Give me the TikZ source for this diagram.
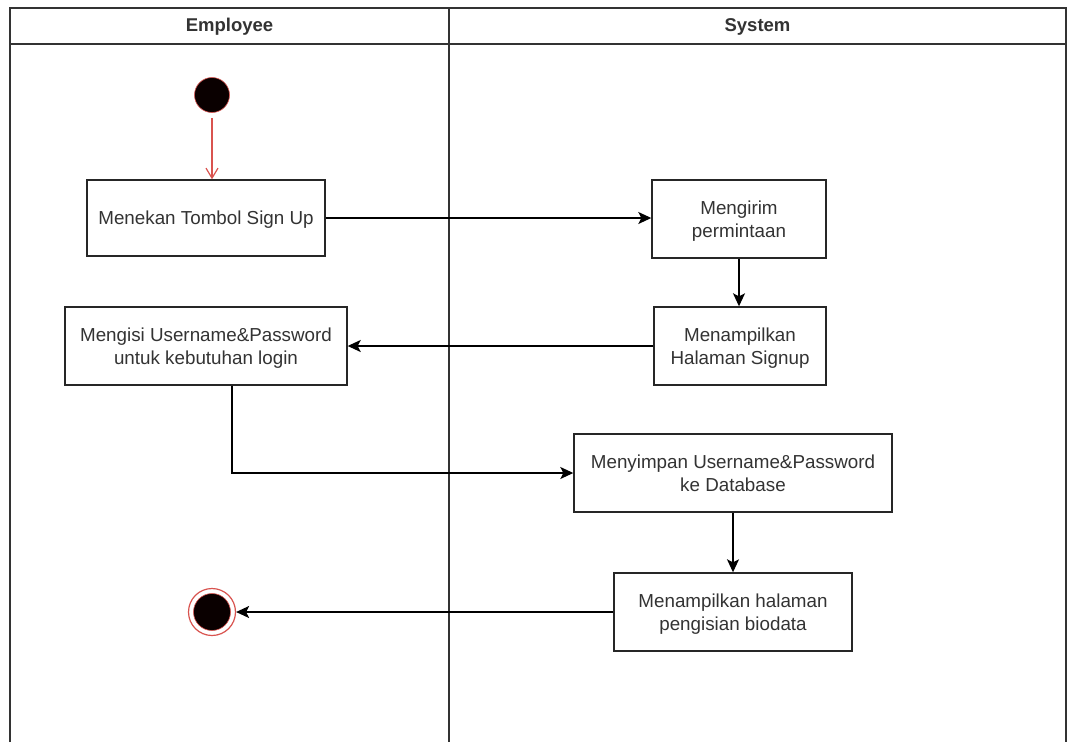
\documentclass[tikz,border=0pt]{standalone}
\usepackage{fontspec}
\setmainfont{Liberation Sans}
\usetikzlibrary{arrows.meta,calc}
\definecolor{txt}{HTML}{333333}
\definecolor{umlred}{HTML}{D9534F}
\definecolor{dotfill}{HTML}{0A0000}
\tikzset{
  act/.style={draw=black!85, line width=1.4pt, fill=white, align=center,
    text=txt, font=\fontsize{18.8}{23}\selectfont, inner sep=0pt, text depth=-3pt},
  flow/.style={draw=black, line width=1.5pt, -{Stealth[length=13pt,width=12pt,inset=3pt]}},
  lane/.style={draw=black!80, line width=1.4pt},
  head/.style={font=\fontsize{18.5}{22}\selectfont\bfseries, text=txt}
}
\begin{document}
\begin{tikzpicture}[x=1pt,y=-1pt]
\useasboundingbox (0,0) rectangle (1075,742);
\fill[white] (0,0) rectangle (1075,742);
% swimlanes
\draw[lane] (10,742) -- (10,8) -- (1066,8) -- (1066,742);
\draw[lane] (10,44) -- (1066,44);
\draw[lane] (449,8) -- (449,742);
\node[head] (hEmp) at (229.5,27) {Employee};
\node[head] (hSys) at (757.5,27) {System};
% start and end
\node[circle, fill=dotfill, draw=umlred, line width=0.6pt, minimum size=35pt, inner sep=0pt] (start) at (212,95) {};
\node[circle, draw=umlred, line width=1.2pt, fill=white, minimum size=47pt, inner sep=0pt] (end) at (212,612) {};
\node[circle, fill=dotfill, draw=umlred, line width=0.6pt, minimum size=37pt, inner sep=0pt] (endin) at (212,612) {};
% activities
\node[act, minimum width=238pt, minimum height=76pt] (a1) at (206,218) {Menekan Tombol Sign Up};
\node[act, minimum width=174pt, minimum height=78pt] (a2) at (739,219) {Mengirim\\permintaan};
\node[act, minimum width=172pt, minimum height=78pt] (a3) at (740,346) {Menampilkan\\Halaman Signup};
\node[act, minimum width=282pt, minimum height=78pt] (a4) at (206,346) {Mengisi Username\&Password\\untuk kebutuhan login};
\node[act, minimum width=318pt, minimum height=78pt] (a5) at (733,473) {Menyimpan Username\&Password\\ke Database};
\node[act, minimum width=238pt, minimum height=78pt] (a6) at (733,612) {Menampilkan halaman\\pengisian biodata};
% flows
\draw[umlred, line width=1.2pt, shorten <=5pt, -{Straight Barb[length=10pt,width=12pt]}] (start) -- (a1.north -| start);
\draw[flow] (a1.east) -- (a1.east -| a2.west);
\draw[flow] (a2.south) -- (a2.south |- a3.north);
\draw[flow] (a3.west) -- (a3.west -| a4.east);
\coordinate (a4out) at ($(a4.south)+(26,0)$);
\draw[flow] (a4out) |- (a5.west);
\draw[flow] (a5.south) -- (a5.south |- a6.north);
\draw[flow] (a6.west) -- (a6.west -| end.east);
\end{tikzpicture}
\end{document}
